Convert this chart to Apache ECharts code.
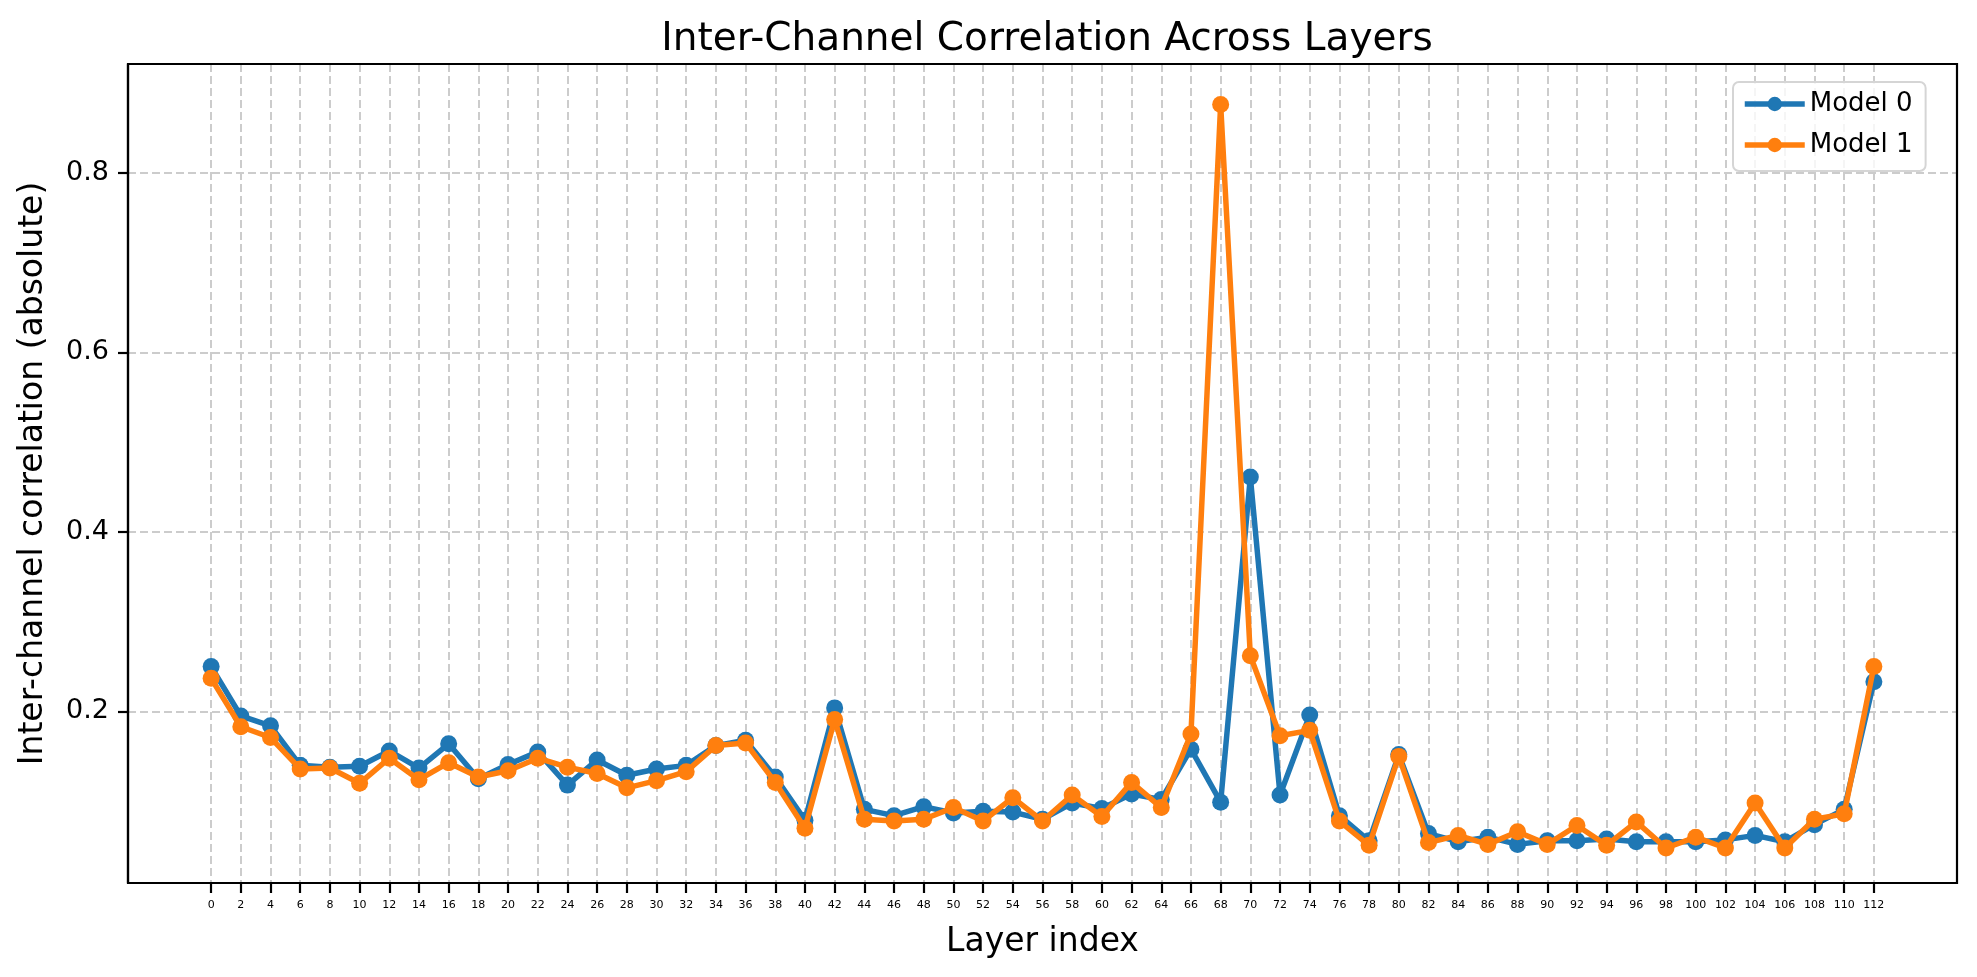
<!DOCTYPE html>
<html>
<head>
<meta charset="utf-8">
<script src="https://cdn.jsdelivr.net/npm/echarts@6/dist/echarts.min.js"></script>
<style>
html,body{margin:0;padding:0;background:#fff;}
#chart{width:1977px;height:977px;}
</style>
</head>
<body>
<div id="chart"></div>
<script>
const layers = [0,2,4,6,8,10,12,14,16,18,20,22,24,26,28,30,32,34,36,38,40,42,44,46,48,50,52,54,56,58,60,62,64,66,68,70,72,74,76,78,80,82,84,86,88,90,92,94,96,98,100,102,104,106,108,110,112];
const model0 = [0.250,0.195,0.184,0.140,0.138,0.139,0.156,0.137,0.164,0.125,0.141,0.155,0.118,0.146,0.129,0.136,0.140,0.162,0.168,0.127,0.079,0.204,0.091,0.084,0.094,0.087,0.089,0.088,0.080,0.098,0.092,0.108,0.102,0.158,0.099,0.461,0.107,0.196,0.084,0.056,0.152,0.064,0.055,0.060,0.052,0.056,0.056,0.058,0.055,0.055,0.055,0.057,0.062,0.055,0.074,0.091,0.233];
const model1 = [0.237,0.183,0.171,0.136,0.137,0.120,0.148,0.124,0.143,0.127,0.134,0.148,0.138,0.131,0.115,0.123,0.133,0.162,0.165,0.121,0.070,0.191,0.080,0.078,0.080,0.093,0.078,0.104,0.078,0.107,0.083,0.121,0.093,0.175,0.876,0.262,0.173,0.179,0.078,0.051,0.150,0.054,0.062,0.052,0.066,0.052,0.073,0.051,0.077,0.048,0.060,0.048,0.098,0.048,0.080,0.086,0.250];
const yTicks = [0.2,0.4,0.6,0.8];
const seriesNames = ['Model 0','Model 1'];
const colors = ['#1f77b4','#ff7f0e'];

const FONT = 'DejaVu Sans';
const chart = echarts.init(document.getElementById('chart'), null, {renderer:'canvas'});
const gridLine = {show:true, lineStyle:{color:'#cccccc', width:2, type:[8,4]}};
function mk(name, vals, color, z){
  return {
    name: name, type:'line', data: layers.map((l,i)=>[l, vals[i]]),
    symbol:'circle', symbolSize:17, showSymbol:true,
    lineStyle:{color:color, width:5.5}, itemStyle:{color:color},
    emphasis:{disabled:true}, animation:false, z:z
  };
}
chart.setOption({
  animation:false,
  backgroundColor:'#ffffff',
  title:{
    text:'Inter-Channel Correlation Across Layers',
    left:1042, textAlign:'center', top:15,
    textStyle:{fontFamily:FONT, fontSize:39, fontWeight:'normal', color:'#000'}
  },
  legend:{
    orient:'vertical', left:1733, top:82,
    data:seriesNames,
    itemWidth:60, itemHeight:18, itemGap:15,
    padding:[9,13,13,9],
    lineStyle:{width:5.5},
    borderColor:'#d5d5d5', borderWidth:2, borderRadius:6,
    backgroundColor:'rgba(255,255,255,0.8)',
    textStyle:{fontFamily:FONT, fontSize:26, color:'#000', lineHeight:26, padding:[0,0,0,0]}
  },
  grid:{left:128, right:20, top:64, bottom:94, containLabel:false},
  xAxis:{
    type:'value', min:-5.6, max:117.6,
    name:'Layer index', nameLocation:'middle', nameGap:43,
    nameTextStyle:{fontFamily:FONT, fontSize:33, color:'#000'},
    axisLine:{show:true, onZero:false, lineStyle:{color:'#000', width:2.2}},
    axisTick:{show:true, length:10, lineStyle:{color:'#000', width:2.2}, customValues:layers},
    axisLabel:{show:true, customValues:layers, fontFamily:FONT, fontSize:11, color:'#000', margin:17,
      formatter:(v)=>String(v)},
    splitLine:gridLine
  },
  yAxis:{
    type:'value', min:0.009, max:0.921,
    name:'Inter-channel correlation (absolute)', nameLocation:'middle', nameGap:78,
    nameTextStyle:{fontFamily:FONT, fontSize:33, color:'#000'},
    axisLine:{show:true, onZero:false, lineStyle:{color:'#000', width:2.2}},
    axisTick:{show:true, length:10, lineStyle:{color:'#000', width:2.2}, customValues:yTicks},
    axisLabel:{show:true, customValues:yTicks, fontFamily:FONT, fontSize:27, color:'#000', margin:19,
      formatter:(v)=>v.toFixed(1)},
    splitLine:gridLine
  },
  series:[mk(seriesNames[0], model0, colors[0], 2), mk(seriesNames[1], model1, colors[1], 3)]
});
chart.setOption({
  graphic:[{
    type:'rect', silent:true, z:0,
    shape:{x:128, y:64, width:1829, height:819},
    style:{fill:null, stroke:'#000', lineWidth:2.2}
  }]
});
</script>
</body>
</html>
